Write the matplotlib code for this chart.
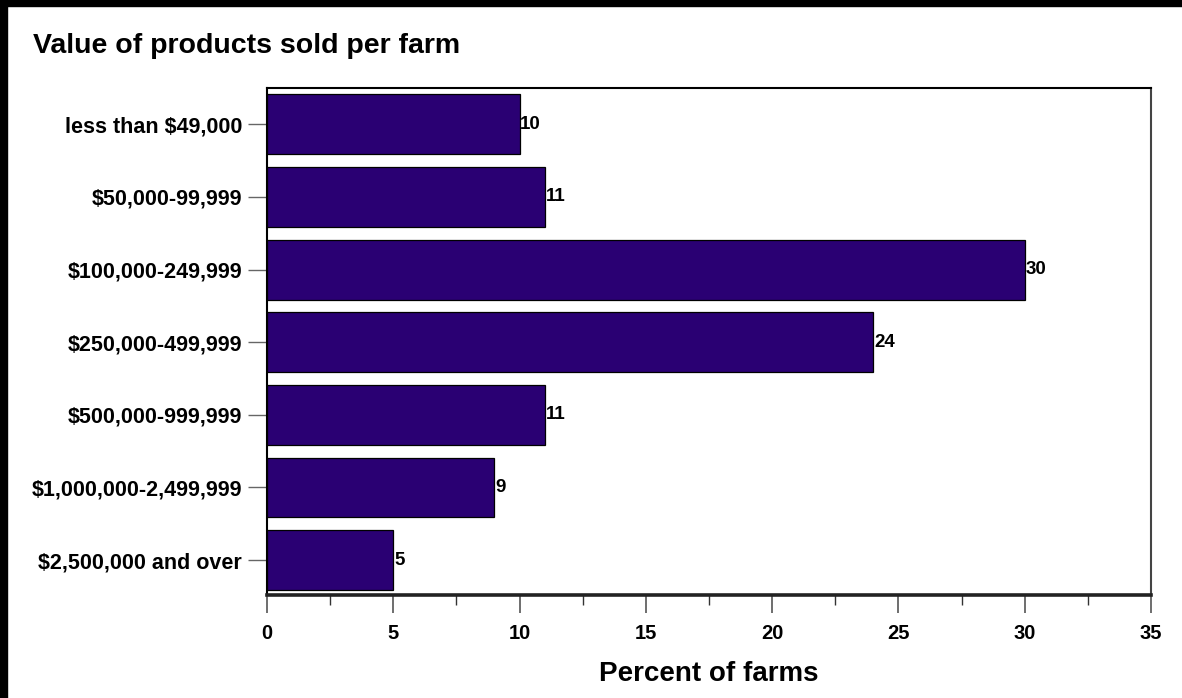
import matplotlib.pyplot as plt
from matplotlib.patches import Rectangle
from matplotlib.ticker import MultipleLocator

# Value of products sold per farm
categories = ["less than $49,000", "$50,000-99,999", "$100,000-249,999",
              "$250,000-499,999", "$500,000-999,999", "$1,000,000-2,499,999",
              "$2,500,000 and over"]
percent = [10, 11, 30, 24, 11, 9, 5]

plt.rcParams['font.family'] = ['Liberation Sans', 'DejaVu Sans']
plt.rcParams['font.weight'] = 'bold'

fig = plt.figure(figsize=(11.82, 6.98), dpi=100)
fig.patch.set_facecolor('white')
ax = fig.add_axes([0.2259, 0.1476, 0.7479, 0.7264])

y = list(range(len(categories)))
ax.barh(y, percent, height=0.825, color='#2a0073', edgecolor='black', linewidth=0.9, zorder=3)

# value labels at the end of each bar
for yi, v in zip(y, percent):
    ax.text(v + 0.03, yi, str(v), va='center', ha='left', fontsize=13.5, fontweight='bold')

ax.set_xlim(0, 35)
ax.set_ylim(6.48, -0.5)
ax.set_yticks(y)
ax.set_yticklabels(categories, fontsize=15.5, fontweight='bold')
ax.xaxis.set_major_locator(MultipleLocator(5))
ax.xaxis.set_minor_locator(MultipleLocator(2.5))
ax.tick_params(axis='x', which='major', length=13, width=1.2, color='#555555', labelsize=14.5, pad=8)
ax.tick_params(axis='x', which='minor', length=7, width=1.0, color='#333333')
ax.tick_params(axis='y', length=14, width=1.0, color='#666666', pad=4)
for lbl in ax.get_xticklabels():
    lbl.set_fontweight('bold')

ax.set_xlabel('Percent of farms', fontsize=20, fontweight='bold', labelpad=13)

ax.spines['top'].set_linewidth(1.5)
ax.spines['left'].set_linewidth(1.5)
ax.spines['right'].set_linewidth(1.5)
ax.spines['right'].set_color('#444444')
ax.spines['bottom'].set_linewidth(2.6)
ax.spines['bottom'].set_color('#222222')

fig.text(0.0279, 0.924, 'Value of products sold per farm', fontsize=20.5, fontweight='bold',
         ha='left', va='baseline')

# black frame on the top and left edges
fig.add_artist(Rectangle((0, 0), 7 / 1182, 1, transform=fig.transFigure, color='black'))
fig.add_artist(Rectangle((0, 1 - 6 / 698), 1, 6 / 698, transform=fig.transFigure, color='black'))

fig.savefig('out.png', dpi=100, facecolor='white')
